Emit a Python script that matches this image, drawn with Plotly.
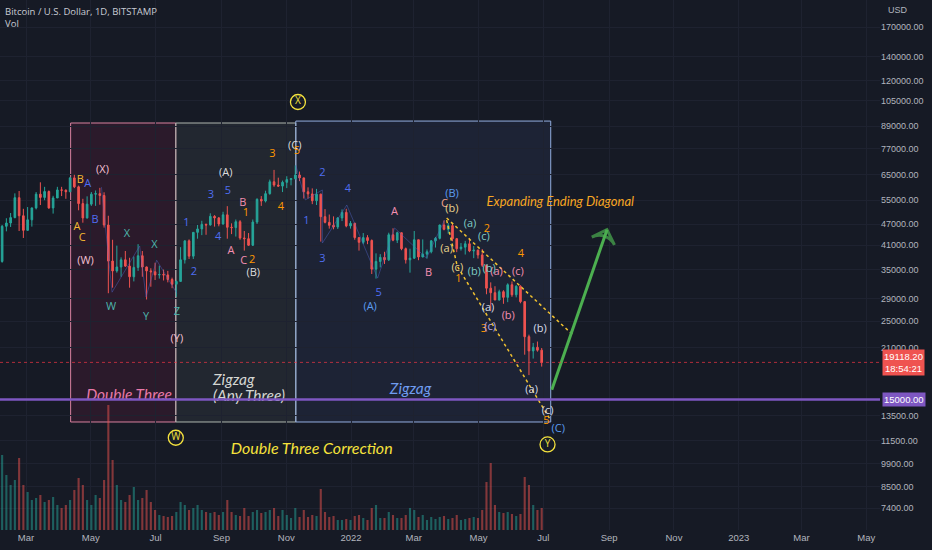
import numpy as np
import pandas as pd
import plotly.graph_objects as go

# BTC/USD BITSTAMP, 4-day candles from 2021-02-05 to 2022-07-01
candle_start = "2021-02-06 12:00"
first_open = 36900
close = [46400, 47400, 49100, 55900, 49700, 45200, 48400, 52300, 57200, 56000,
         58200, 52300, 55800, 58800, 58700, 58100, 63600, 60000, 53800, 49000,
         53600, 57200, 57400, 56700, 46800, 37000, 34700, 35600, 37300, 35800,
         33400, 35500, 38300, 35600, 34700, 34500, 33800, 33900, 33800, 32800,
         31800, 32400, 37300, 42200, 38200, 44600, 45600, 47000, 46800, 49500,
         49000, 47100, 50000, 46100, 46000, 47800, 43000, 42800, 41000, 47700,
         55300, 54700, 57400, 62000, 60700, 60300, 61800, 62900, 63300, 64800,
         63600, 58100, 57300, 54800, 57200, 49400, 47600, 46700, 46200, 49000,
         50800, 46500, 47300, 43100, 41800, 43100, 42300, 35100, 36900, 37900,
         37300, 43900, 42400, 44500, 40100, 37300, 37700, 42500, 38000, 38700,
         39300, 42200, 42900, 46800, 45500, 46600, 42800, 40100, 40500, 41400,
         39500, 39700, 38500, 36000, 31000, 30100, 28700, 30300, 29200, 31700,
         29700, 31400, 28400, 22600, 20600, 21100, 20700, 19118.2]
high = [46800, 48900, 50600, 57500, 58400, 52000, 52600, 52400, 58000, 61800,
        60000, 58600, 56600, 60000, 60000, 59000, 64000, 64900, 60500, 55500,
        56400, 58000, 58600, 59600, 57900, 49700, 42500, 40900, 37900, 39500,
        37800, 38100, 41300, 39500, 35700, 35300, 36600, 35900, 35000, 34700,
        33200, 32600, 40500, 42300, 42600, 44700, 46800, 48100, 47200, 50500,
        49900, 49300, 51000, 52900, 47300, 48500, 48300, 45000, 44400, 48500,
        55700, 56500, 58500, 62900, 67000, 63700, 62500, 64300, 63300, 69000,
        66300, 63700, 59800, 59400, 59200, 57400, 51900, 50100, 49500, 49300,
        51800, 52000, 48000, 47500, 43100, 44400, 43800, 42600, 38900, 38700,
        39300, 44500, 45800, 44800, 44500, 40400, 40100, 45000, 42500, 42600,
        39900, 42400, 43300, 46900, 48200, 47400, 47200, 43000, 41600, 42200,
        42900, 40800, 39900, 40000, 36100, 32200, 31400, 30700, 30600, 32000,
        32400, 31600, 31600, 28500, 22900, 21700, 21900, 21000]
low = [36600, 44900, 46200, 48900, 45000, 43000, 45000, 46300, 51800, 53300,
       55000, 52000, 50400, 55800, 56500, 55500, 58000, 59500, 51500, 47500,
       48800, 53000, 53000, 53400, 46000, 30000, 31100, 34300, 33400, 35600,
       31100, 32400, 34700, 33400, 28800, 31300, 32700, 33000, 32600, 32200,
       31000, 29300, 32400, 36400, 37500, 37500, 42800, 43800, 43900, 46600,
       46300, 46400, 46900, 42800, 44100, 43400, 42500, 39600, 40800, 40800,
       47100, 53000, 54200, 57000, 60000, 60000, 58000, 59500, 60600, 62900,
       62300, 55600, 55600, 53600, 53300, 42000, 47300, 45700, 45500, 45600,
       48000, 46100, 45700, 42500, 39600, 41300, 41300, 34000, 33000, 35500,
       36300, 37000, 42100, 41600, 39700, 36400, 34300, 37500, 37200, 37900,
       37600, 38900, 40400, 42600, 45200, 44200, 42100, 39200, 39600, 38600,
       39200, 37700, 37600, 35600, 29800, 26700, 28700, 28600, 28000, 28300,
       29300, 29200, 28100, 20100, 17600, 19600, 20500, 18600]
# volume, hundreds of BTC
volume = [75, 55, 45, 50, 72, 45, 38, 30, 32, 35, 28, 30, 33, 25, 22, 25, 30, 40, 52, 45,
          30, 25, 35, 32, 50, 125, 70, 45, 30, 28, 35, 43, 30, 32, 40, 28, 20, 15, 14, 13,
          14, 18, 28, 25, 20, 22, 25, 20, 18, 17, 18, 15, 18, 30, 18, 15, 14, 22, 14, 18,
          20, 17, 18, 20, 22, 14, 20, 15, 12, 22, 13, 20, 13, 15, 14, 41, 18, 13, 14, 10,
          10, 11, 10, 14, 15, 12, 10, 22, 25, 12, 12, 18, 15, 12, 12, 15, 22, 20, 13, 15,
          10, 13, 11, 13, 14, 11, 12, 15, 10, 11, 12, 13, 12, 20, 48, 67, 25, 18, 17, 18,
          16, 14, 16, 53, 45, 25, 20, 22]

price_ticks = [170000, 140000, 120000, 105000, 89000, 77000, 65000, 55000, 47000,
               41000, 35000, 29000, 25000, 21000, 13500, 11500, 9900, 8500, 7400]
month_ticks = ["2021-03-01", "2021-05-01", "2021-07-01", "2021-09-01", "2021-11-01",
               "2022-01-01", "2022-03-01", "2022-05-01", "2022-07-01", "2022-09-01",
               "2022-11-01", "2023-01-01", "2023-03-01", "2023-05-01"]
month_text = ["Mar", "May", "Jul", "Sep", "Nov", "2022", "Mar", "May", "Jul", "Sep",
              "Nov", "2023", "Mar", "May"]

last_price = 19118.20
target_level = 15000

# Elliott wave labels: (text, date, price)
labels = {
    "#f4b932": [("B", "2021-04-21", 62700), ("A", "2021-04-18", 46200), ("C", "2021-04-23", 43000)],
    "#4f6ef2": [("A", "2021-04-28", 61100), ("B", "2021-05-05", 48300), ("1", "2021-07-30", 47400),
                ("2", "2021-08-06", 34400), ("3", "2021-08-22", 56900), ("4", "2021-08-29", 43300),
                ("5", "2021-09-07", 58400), ("1", "2021-11-20", 48000), ("2", "2021-12-05", 65700),
                ("3", "2021-12-05", 37500), ("4", "2021-12-29", 59200), ("5", "2022-01-27", 30000)],
    "#f3c1d3": [("(X)", "2021-05-12", 66900), ("(W)", "2021-04-26", 37000), ("(Y)", "2021-07-21", 22300)],
    "#4db6ac": [("X", "2021-06-04", 44100), ("X", "2021-06-30", 41100), ("W", "2021-05-20", 27400),
                ("Y", "2021-06-22", 25700), ("Z", "2021-07-21", 26500)],
    "#dcdcdc": [("(A)", "2021-09-05", 65700), ("(B)", "2021-10-01", 34200), ("(C)", "2021-11-09", 78300)],
    "#f48fb1": [("B", "2021-09-21", 54000), ("A", "2021-09-10", 39500), ("C", "2021-09-22", 37000),
                ("A", "2022-02-11", 50900), ("B", "2022-03-15", 34200), ("(a)", "2022-05-18", 34400),
                ("(c)", "2022-06-07", 34400), ("(b)", "2022-05-29", 25900)],
    "#ff9800": [("1", "2021-09-24", 50600), ("2", "2021-09-30", 37200), ("3", "2021-10-19", 74300),
                ("4", "2021-10-27", 52600), ("5", "2021-11-11", 75800), ("1", "2022-04-12", 32900),
                ("2", "2022-05-09", 45600), ("4", "2022-06-10", 38700), ("3", "2022-05-06", 23800),
                ("5", "2022-07-04", 13000)],
    "#5b9cf0": [("(A)", "2022-01-19", 27400), ("(B)", "2022-04-06", 57300), ("(C)", "2022-07-15", 12400)],
    "#f4a38c": [("C", "2022-03-30", 53700)],
    "#e8d38c": [("(b)", "2022-04-06", 51900), ("(a)", "2022-04-01", 40000), ("(c)", "2022-04-11", 35400)],
    "#7fcdc4": [("(a)", "2022-04-23", 47100), ("(c)", "2022-05-06", 43300), ("(b)", "2022-04-27", 34400),
                ("(b)", "2022-05-11", 35100)],
    "#d8dde8": [("(a)", "2022-05-10", 27200), ("(b)", "2022-06-28", 23800), ("(a)", "2022-06-20", 15900),
                ("(c)", "2022-07-05", 13900)],
    "#b9a7e6": [("(c)", "2022-05-12", 24100)],
}
circled = [("X", "2021-11-12", 104300), ("W", "2021-07-20", 11700), ("Y", "2022-07-05", 11200)]

# (text, date, price, colour, size, anchor)
titles = [
    ("Double Three", "2021-06-06", 15300, "#e879a8", 15.5, "middle center"),
    ("Zigzag", "2021-08-24", 16900, "#d4d6d2", 15.5, "middle right"),
    ("(Any Three)", "2021-08-24", 15200, "#d4d6d2", 15.5, "middle right"),
    ("Zigzag", "2022-02-26", 16000, "#6f9cf0", 15.5, "middle center"),
    ("Expanding Ending Diagonal", "2022-07-17", 54000, "#f6a623", 13, "middle center"),
    ("Double Three Correction", "2021-11-25", 10800, "#f7e23b", 16, "middle center"),
]

# faint swing lines joining the wave points
swing_wxyxz = (["2021-05-11", "2021-05-21", "2021-06-16", "2021-06-22", "2021-07-02", "2021-07-21"],
               [59900, 30200, 40800, 29300, 37200, 30000])
swing_impulse = (["2021-11-10", "2021-11-19", "2021-12-05", "2021-12-05", "2021-12-28", "2022-01-26",
                  "2022-02-11", "2022-03-13", "2022-03-30"],
                 [69000, 55100, 58800, 41600, 53300, 33100, 45900, 37700, 48300])

# pattern boxes: (start, end, top)
boxes = [("2021-04-12", "2021-07-20", 90950, "rgba(233,30,99,0.10)", "#d9809f"),
         ("2021-07-20", "2021-11-10", 90950, "rgba(200,215,200,0.07)", "#aeb5ae"),
         ("2021-11-10", "2022-07-08", 92100, "rgba(110,150,240,0.08)", "#93aee0")]
box_bottom = 12965

diag_upper = (["2022-04-01", "2022-07-29"], [48970, 22850])
diag_lower = (["2022-04-01", "2022-04-11", "2022-07-08"], [48300, 35800, 13100])
arrow_path = (["2022-07-09", "2022-08-30"], [16000, 45400])

dates = pd.date_range(candle_start, periods=len(close), freq="4D")
opens = [first_open] + close[:-1]
up = [c >= o for c, o in zip(close, opens)]

fig = go.Figure()

fig.add_trace(go.Bar(
    x=dates, y=volume, yaxis="y2",
    marker=dict(color=["rgba(38,166,154,0.5)" if u else "rgba(239,83,80,0.5)" for u in up],
                line=dict(width=0)),
    width=2.0 * 86400000, hoverinfo="skip"))

for xs, ys in (swing_wxyxz, swing_impulse):
    fig.add_trace(go.Scatter(x=xs, y=ys, mode="lines",
                             line=dict(color="rgba(80,100,200,0.45)", width=1), hoverinfo="skip"))

fig.add_trace(go.Candlestick(
    x=dates, open=opens, high=high, low=low, close=close,
    increasing=dict(line=dict(color="#26a69a", width=1), fillcolor="#26a69a"),
    decreasing=dict(line=dict(color="#ef5350", width=1), fillcolor="#ef5350"),
    whiskerwidth=0, hoverinfo="skip"))

dot_col = "#f2c230"
for xs, ys in (diag_upper, diag_lower):
    fig.add_trace(go.Scatter(x=xs, y=ys, mode="lines",
                             line=dict(color=dot_col, width=1.5, dash="dot"), hoverinfo="skip"))

fig.add_trace(go.Scatter(
    x=arrow_path[0], y=arrow_path[1], mode="lines+markers",
    line=dict(color="#4caf50", width=3),
    marker=dict(symbol=["circle", "arrow-wide-open"], size=[0, 17], angleref="previous",
                color="#4caf50", line=dict(color="#4caf50", width=3)),
    hoverinfo="skip"))

for col, items in labels.items():
    fig.add_trace(go.Scatter(
        x=[d for _, d, _ in items], y=[p for _, _, p in items], text=[t for t, _, _ in items],
        mode="text", textposition="middle center", cliponaxis=False,
        textfont=dict(color=col, size=11, family="Open Sans"), hoverinfo="skip"))

fig.add_trace(go.Scatter(
    x=[d for _, d, _ in circled], y=[p for _, _, p in circled], text=[t for t, _, _ in circled],
    mode="markers+text", textposition="middle center", cliponaxis=False,
    marker=dict(symbol="circle-open", size=15, color="#f4e23e", line=dict(width=1.3)),
    textfont=dict(color="#f4e23e", size=10, family="Open Sans"), hoverinfo="skip"))

for txt, d, p, col, sz, pos in titles:
    fig.add_trace(go.Scatter(
        x=[d], y=[p], text=[txt], mode="text", textposition=pos, cliponaxis=False,
        textfont=dict(color=col, size=sz, family="Lato", style="italic"),
        hoverinfo="skip"))

for x0, x1, top, fill, edge in boxes:
    fig.add_shape(type="rect", xref="x", yref="y", x0=x0, x1=x1, y0=box_bottom, y1=top,
                  fillcolor=fill, line=dict(color=edge, width=1), layer="below")

fig.add_shape(type="line", xref="paper", yref="y", x0=0, x1=1, y0=target_level, y1=target_level,
              line=dict(color="#7e57c2", width=2.5))
fig.add_shape(type="line", xref="paper", yref="y", x0=0, x1=1, y0=last_price, y1=last_price,
              line=dict(color="#f23645", width=1, dash="dot"), opacity=0.7)

fig.add_annotation(xref="paper", yref="y", x=1, y=np.log10(last_price), xanchor="left",
                   text="%.2f<br>18:54:21" % last_price, showarrow=False, bgcolor="#ef5350",
                   font=dict(color="white", size=9.5, family="Liberation Sans"), borderpad=1,
                   xshift=2)
fig.add_annotation(xref="paper", yref="y", x=1, y=np.log10(target_level), xanchor="left",
                   text="%.2f" % target_level, showarrow=False, bgcolor="#7e57c2",
                   font=dict(color="white", size=9.5, family="Liberation Sans"), borderpad=1,
                   xshift=2)
fig.add_annotation(xref="paper", yref="paper", x=0, y=1, xanchor="left", yanchor="top",
                   text="Bitcoin / U.S. Dollar, 1D, BITSTAMP<br>Vol", align="left",
                   showarrow=False, xshift=3, yshift=-3,
                   font=dict(color="#c9ccd4", size=9.5, family="Open Sans"))
fig.add_annotation(xref="paper", yref="paper", x=1, y=1, xanchor="left", yanchor="top",
                   text="USD", showarrow=False, xshift=6, yshift=-3,
                   font=dict(color="#b2b5be", size=9, family="Liberation Sans"))

grid = "#1e2230"
fig.update_layout(
    width=932, height=550,
    margin=dict(l=0, r=52, t=0, b=20),
    paper_bgcolor="#161a25", plot_bgcolor="#161a25",
    showlegend=False, boxgap=0.45,
    xaxis=dict(type="date", range=["2021-02-04 12:00", "2023-05-14"],
               tickvals=month_ticks, ticktext=month_text, showgrid=True, gridcolor=grid,
               zeroline=False, showline=False, ticks="", rangeslider=dict(visible=False),
               tickfont=dict(size=9.5, color="#b2b5be", family="Liberation Sans")),
    yaxis=dict(type="log", side="right", range=[np.log10(6414), np.log10(202700)],
               tickvals=price_ticks, ticktext=["%.2f" % v for v in price_ticks],
               showgrid=True, gridcolor=grid, zeroline=False, showline=False, ticks="",
               tickfont=dict(size=9, color="#b2b5be", family="Liberation Sans")),
    yaxis2=dict(overlaying="y", range=[0, 530], visible=False),
)

fig.write_html("out.html", config={"displayModeBar": False},
               post_script="document.body.style.margin='0';")
